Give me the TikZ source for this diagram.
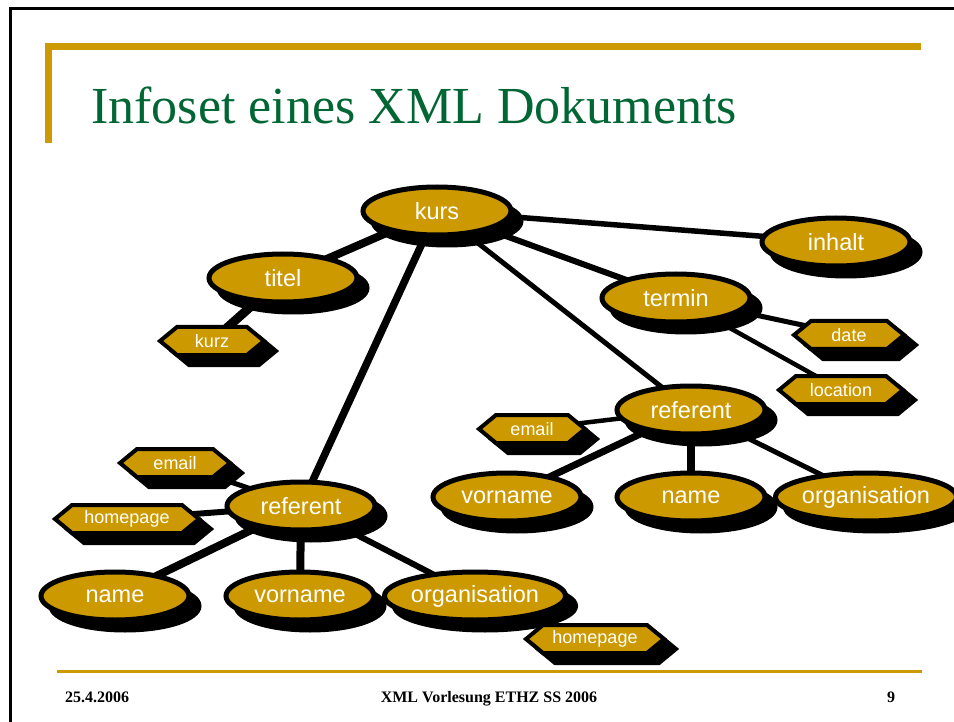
\documentclass[tikz,border=0pt]{standalone}
\usepackage{fontspec}
\setmainfont{Liberation Serif}
\setsansfont{Liberation Sans}
\usetikzlibrary{shapes.geometric,shadows,backgrounds}
\definecolor{gold}{HTML}{CC9900}
\definecolor{titlegreen}{HTML}{006633}
\tikzset{
  ell/.style={ellipse, draw=black, line width=5pt, fill=gold, text=white,
    font=\sffamily\fontsize{23.5}{28}\selectfont, minimum width=148pt, minimum height=48pt, inner sep=0pt,
    drop shadow={opacity=1, fill=black, draw=black, line width=5pt, shadow xshift=10pt, shadow yshift=-10pt}},
  hexline/.style={draw=black, line width=4pt, fill=gold, line join=miter},
  hexshadow/.style={draw=black, line width=4pt, fill=black, line join=miter},
  hextext/.style={text=white, font=\sffamily\fontsize{18}{21}\selectfont, inner sep=1pt},
  conn/.style={draw=black, line width=#1},
  conn/.default=6pt
}
% #1 name, #2 x, #3 y, #4 outer half width, #5 text
\newcommand\hexa[5]{%
  \begin{scope}[shift={(#2,#3)}]
    \path[hexshadow] ({-#4+3+12},{0+10}) -- ({-#4+3+17+12},{-14+10}) -- ({#4-3-17+12},{-14+10}) -- ({#4-3+12},{0+10}) -- ({#4-3-17+12},{14+10}) -- ({-#4+3+17+12},{14+10}) -- cycle;
    \path[hexline] ({-#4+3},0) -- ({-#4+3+17},-14) -- ({#4-3-17},-14) -- ({#4-3},0) -- ({#4-3-17},14) -- ({-#4+3+17},14) -- cycle;
  \end{scope}
  \node[hextext] (#1) at (#2,#3) {#5};
}
\begin{document}
\begin{tikzpicture}[x=1pt,y=-1pt]
\useasboundingbox (0,0) rectangle (954,722);
% frame
\draw[line width=3pt, black] (10.5,722) -- (10.5,8.5) -- (954,8.5);
% title bars
\fill[gold] (45,43) rectangle (921,50);
\fill[gold] (45,43) rectangle (52,143);
\node[anchor=base west, inner sep=0pt, text=titlegreen, font=\fontsize{52}{60}\selectfont] (title) at (91,124) {Infoset eines XML Dokuments};
% footer
\fill[gold] (57,669.5) rectangle (922,672.5);
\node[anchor=base west, inner sep=0pt, font=\bfseries\fontsize{16}{19}\selectfont] (date) at (65,702) {25.4.2006};
\node[anchor=base, inner sep=0pt, font=\bfseries\fontsize{16}{19}\selectfont] (course) at (489,702) {XML Vorlesung ETHZ SS 2006};
\node[anchor=base, inner sep=0pt, font=\bfseries\fontsize{16}{19}\selectfont] (page) at (891,702) {9};

% hexagons
\hexa{kurz}{212}{341}{55}{kurz}
\hexa{dateh}{849}{335}{58}{date}
\hexa{location}{841}{390}{65}{location}
\hexa{emailR}{532}{429}{56}{email}
\hexa{emailL}{175}{463}{58}{email}
\hexa{homepageL}{127}{519}{75}{homepage}
\hexa{homepageB}{595}{639}{72}{homepage}

% ellipses
\node[ell] (kurs) at (437,211) {kurs};
\node[ell] (inhalt) at (836,242) {inhalt};
\node[ell] (titel) at (283,278) {titel};
\node[ell] (termin) at (676,298) {termin};
\node[ell] (refR) at (691,410) {referent};
\node[ell] (vornameR) at (507,497) {vorname};
\node[ell] (nameR) at (691,497) {name};
\node[ell] (orgR) at (866,497) {organisation};
\node[ell] (refL) at (301,506) {referent};
\node[ell] (nameL) at (115,596) {name};
\node[ell] (vornameL) at (300,596) {vorname};
\node[ell] (orgL) at (475,596) {organisation};

\begin{scope}[on background layer]
\draw[conn=8pt] (kurs.center) -- (titel.center);
\draw[conn=7.5pt] (kurs.center) -- (refL.center);
\draw[conn=6pt] (kurs.center) -- (termin.center);
\draw[conn=5.5pt] (kurs.center) -- (inhalt.center);
\draw[conn=5pt] (kurs.center) -- (refR.center);
\draw[conn=9pt] (titel.center) -- (kurz.center);
\draw[conn=5pt] (termin.center) -- (dateh.center);
\draw[conn=4.5pt] (termin.center) -- (location.center);
\draw[conn=4.5pt] (refR.center) -- (emailR.center);
\draw[conn=7pt] (refR.center) -- (vornameR.center);
\draw[conn=7.5pt] (refR.center) -- (nameR.center);
\draw[conn=5pt] (refR.center) -- (orgR.center);
\draw[conn=5pt] (refL.center) -- (emailL.center);
\draw[conn=6pt] (refL.center) -- (homepageL.center);
\draw[conn=8pt] (refL.center) -- (nameL.center);
\draw[conn=8pt] (refL.center) -- (vornameL.center);
\draw[conn=6pt] (refL.center) -- (orgL.center);
\draw[conn=6pt] (orgL.center) -- (homepageB.center);
\end{scope}
\end{tikzpicture}
\end{document}
